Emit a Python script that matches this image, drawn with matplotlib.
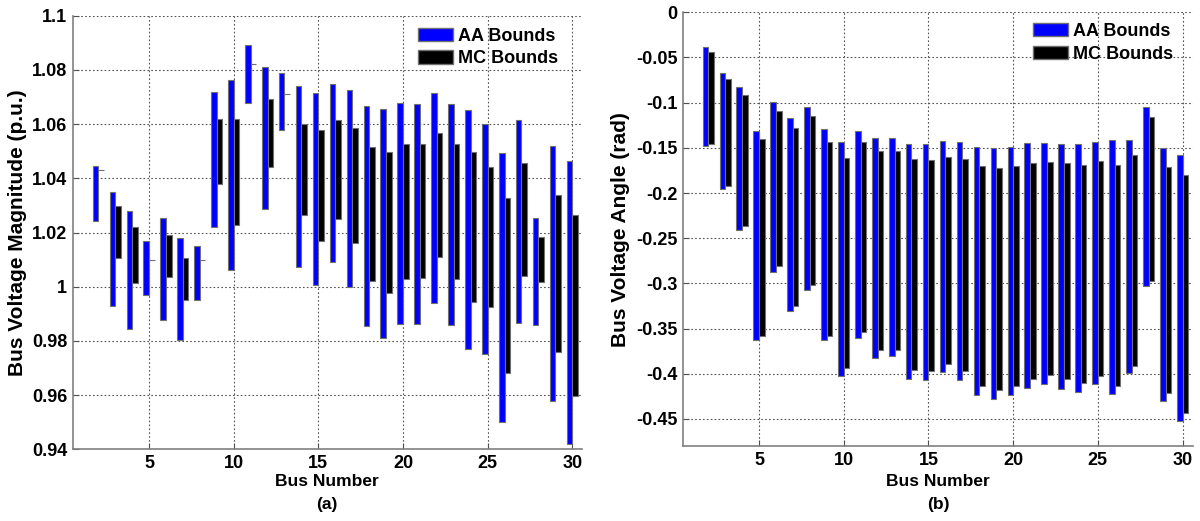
import numpy as np
import matplotlib
matplotlib.use("Agg")
import matplotlib.pyplot as plt
from matplotlib.patches import Patch
from matplotlib.font_manager import FontProperties

plt.rcParams['font.family'] = ['Liberation Sans', 'DejaVu Sans']
plt.rcParams['font.weight'] = 'bold'
plt.rcParams['axes.labelweight'] = 'bold'

buses = np.arange(2, 31)

# Bus voltage magnitude bounds (p.u.)
aa_vm_hi = [1.0447, 1.0348, 1.0279, 1.0168, 1.0252, 1.0178, 1.0152, 1.0720, 1.0762,
            1.0893, 1.0810, 1.0787, 1.0740, 1.0715, 1.0747, 1.0726, 1.0666, 1.0656,
            1.0677, 1.0674, 1.0714, 1.0673, 1.0651, 1.0600, 1.0495, 1.0616, 1.0253,
            1.0518, 1.0462]
aa_vm_lo = [1.0241, 0.9929, 0.9844, 0.9971, 0.9877, 0.9804, 0.9952, 1.0220, 1.0063,
            1.0677, 1.0286, 1.0577, 1.0074, 1.0005, 1.0092, 0.9999, 0.9855, 0.9809,
            0.9863, 0.9863, 0.9940, 0.9860, 0.9769, 0.9752, 0.9501, 0.9865, 0.9858,
            0.9579, 0.9418]
mc_vm_hi = [1.0430, 1.0299, 1.0220, 1.0098, 1.0191, 1.0106, 1.0098, 1.0618, 1.0620,
            1.0820, 1.0693, 1.0710, 1.0600, 1.0577, 1.0614, 1.0585, 1.0516, 1.0498,
            1.0525, 1.0526, 1.0569, 1.0526, 1.0498, 1.0440, 1.0329, 1.0458, 1.0184,
            1.0337, 1.0263]
mc_vm_lo = [1.0430, 1.0106, 1.0015, 1.0098, 1.0037, 0.9952, 1.0098, 1.0378, 1.0229,
            1.0820, 1.0440, 1.0710, 1.0265, 1.0167, 1.0251, 1.0161, 1.0020, 0.9977,
            1.0028, 1.0031, 1.0108, 1.0028, 0.9944, 0.9926, 0.9680, 1.0038, 1.0017,
            0.9758, 0.9597]

# Bus voltage angle bounds (rad)
aa_va_hi = [-0.0380, -0.0674, -0.0822, -0.1312, -0.0995, -0.1165, -0.1047, -0.1290,
            -0.1434, -0.1312, -0.1390, -0.1390, -0.1463, -0.1456, -0.1423, -0.1437,
            -0.1496, -0.1500, -0.1489, -0.1448, -0.1448, -0.1460, -0.1460, -0.1430,
            -0.1412, -0.1412, -0.1050, -0.1500, -0.1577]
aa_va_lo = [-0.1485, -0.1957, -0.2414, -0.3623, -0.2871, -0.3310, -0.3070, -0.3623,
            -0.4028, -0.3604, -0.3829, -0.3807, -0.4054, -0.4069, -0.3984, -0.4069,
            -0.4238, -0.4283, -0.4231, -0.4157, -0.4109, -0.4165, -0.4205, -0.4113,
            -0.4224, -0.3991, -0.3026, -0.4301, -0.4518]
mc_va_hi = [-0.0435, -0.0741, -0.0910, -0.1400, -0.1091, -0.1283, -0.1150, -0.1437,
            -0.1618, -0.1437, -0.1533, -0.1533, -0.1625, -0.1636, -0.1596, -0.1629,
            -0.1703, -0.1721, -0.1703, -0.1669, -0.1655, -0.1673, -0.1695, -0.1644,
            -0.1688, -0.1581, -0.1161, -0.1714, -0.1806]
mc_va_lo = [-0.1460, -0.1920, -0.2370, -0.3586, -0.2812, -0.3254, -0.3015, -0.3586,
            -0.3936, -0.3542, -0.3741, -0.3741, -0.3955, -0.3973, -0.3892, -0.3973,
            -0.4139, -0.4183, -0.4139, -0.4058, -0.4017, -0.4058, -0.4102, -0.4021,
            -0.4131, -0.3910, -0.2970, -0.4213, -0.4434]

x_ticks = [5, 10, 15, 20, 25, 30]
x_ticklabels = ['5', '10', '15', '20', '25', '30']
vm_ticks = [0.94, 0.96, 0.98, 1.0, 1.02, 1.04, 1.06, 1.08, 1.1]
vm_ticklabels = ['0.94', '0.96', '0.98', '1', '1.02', '1.04', '1.06', '1.08', '1.1']
va_ticks = [-0.45, -0.4, -0.35, -0.3, -0.25, -0.2, -0.15, -0.1, -0.05, 0]
va_ticklabels = ['-0.45', '-0.4', '-0.35', '-0.3', '-0.25', '-0.2', '-0.15', '-0.1',
                 '-0.05', '0']

W, H = 1200, 521
fig = plt.figure(figsize=(W / 100, H / 100), dpi=100)

def px_axes(x0, y0, x1, y1):
    return fig.add_axes([x0 / W, 1 - y1 / H, (x1 - x0) / W, (y1 - y0) / H])

ax1 = px_axes(72.7, 15.7, 581.7, 449.3)
ax2 = px_axes(683.3, 12.3, 1192.7, 446.0)

edge = '#707070'
bw = 0.33
tick_fp = FontProperties(family='Liberation Sans', weight='bold', size=13)
leg_fp = FontProperties(family='Liberation Sans', weight='bold', size=13)

def draw(ax, aa_lo, aa_hi, mc_lo, mc_hi, leg_anchor):
    aa_lo, aa_hi = np.array(aa_lo), np.array(aa_hi)
    mc_lo, mc_hi = np.array(mc_lo), np.array(mc_hi)
    ax.bar(buses - bw / 2, aa_hi - aa_lo, bottom=aa_lo, width=bw,
           color='#0000ff', edgecolor=edge, linewidth=0.8, zorder=3)
    ax.bar(buses + bw / 2, mc_hi - mc_lo, bottom=mc_lo, width=bw,
           color='#000000', edgecolor=edge, linewidth=0.8, zorder=3)
    ax.set_axisbelow(True)
    ax.grid(True, linestyle=(0, (1.5, 2)), color='#555555', linewidth=0.8)
    for s in ['top', 'right']:
        ax.spines[s].set_visible(False)
    for s in ['left', 'bottom']:
        ax.spines[s].set_color('#808080')
        ax.spines[s].set_linewidth(1.2)
    ax.tick_params(direction='in', length=4, color='#505050', pad=4)
    ax.set_xticks(x_ticks)
    ax.set_xticklabels(x_ticklabels, fontproperties=tick_fp)
    ax.legend(handles=[Patch(facecolor='#0000ff', edgecolor=edge, label='AA Bounds'),
                       Patch(facecolor='#000000', edgecolor=edge, label='MC Bounds')],
              frameon=False, loc='upper left', bbox_to_anchor=leg_anchor,
              handlelength=1.95, handleheight=0.75, handletextpad=0.28,
              labelspacing=0.3, borderpad=0, borderaxespad=0, prop=leg_fp)

draw(ax1, aa_vm_lo, aa_vm_hi, mc_vm_lo, mc_vm_hi, (0.678, 0.972))
ax1.set_xlim(0.49, 30.56)
ax1.set_ylim(0.94, 1.1)
ax1.set_yticks(vm_ticks)
ax1.set_yticklabels(vm_ticklabels, fontproperties=tick_fp)
ax1.set_ylabel('Bus Voltage Magnitude (p.u.)', fontsize=15, fontweight='bold')
ax1.yaxis.set_label_coords((27 - 72.7) / 509.0, 0.5)

draw(ax2, aa_va_lo, aa_va_hi, mc_va_lo, mc_va_hi, (0.686, 0.975))
ax2.set_xlim(0.53, 30.6)
ax2.set_ylim(-0.48, 0)
ax2.set_yticks(va_ticks)
ax2.set_yticklabels(va_ticklabels, fontproperties=tick_fp)
ax2.set_ylabel('Bus Voltage Angle (rad)', fontsize=15, fontweight='bold')
ax2.yaxis.set_label_coords((630 - 683.3) / 509.4, 0.5)

for ax, tag in [(ax1, '(a)'), (ax2, '(b)')]:
    pos = ax.get_position()
    cx = pos.x0 + pos.width / 2
    fig.text(cx, 1 - 482 / H, 'Bus Number', ha='center', va='center',
             fontsize=12.5, fontweight='bold')
    fig.text(cx, 1 - 504 / H, tag, ha='center', va='center',
             fontsize=12.5, fontweight='bold')

fig.savefig('out.png', dpi=100)
